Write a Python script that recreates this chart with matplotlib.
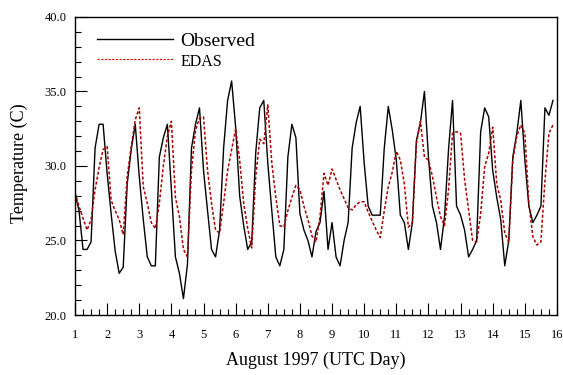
import numpy as np
import matplotlib
matplotlib.use("Agg")
import matplotlib.pyplot as plt
from matplotlib.ticker import MultipleLocator, FormatStrFormatter

# 3-hourly air temperature, August 1997 (UTC day), starting day 1 00Z
start_day = 1.0
step_days = 0.125

observed = [
    28.2, 27.0, 24.4, 24.4, 24.9, 31.2, 32.8, 32.8,   # day 1
    29.5, 26.8, 24.3, 22.8, 23.2, 28.8, 31.1, 32.8,   # day 2
    29.3, 26.4, 23.9, 23.3, 23.3, 30.6, 31.9, 32.8,   # day 3
    28.4, 23.9, 22.8, 21.1, 23.4, 31.2, 32.8, 33.9,   # day 4
    29.7, 27.0, 24.4, 23.9, 25.7, 31.2, 34.4, 35.7,   # day 5
    32.6, 28.0, 26.0, 24.4, 24.9, 30.9, 33.9, 34.4,   # day 6
    30.2, 27.0, 23.9, 23.3, 24.4, 30.6, 32.8, 31.9,   # day 7
    26.8, 25.7, 25.0, 23.9, 25.6, 26.2, 28.3, 24.4,   # day 8
    26.2, 23.9, 23.3, 25.0, 26.2, 31.2, 32.9, 34.0,   # day 9
    30.2, 27.3, 26.7, 26.7, 26.7, 31.2, 34.0, 32.4,   # day 10
    30.4, 26.7, 26.2, 24.4, 26.2, 31.7, 32.9, 35.0,   # day 11
    30.6, 27.3, 26.2, 24.4, 26.6, 31.1, 34.4, 27.3,   # day 12
    26.7, 25.7, 23.9, 24.4, 25.0, 32.3, 33.9, 33.3,   # day 13
    29.7, 27.9, 26.4, 23.3, 25.0, 30.6, 32.2, 34.4,   # day 14
    30.4, 27.3, 26.2, 26.7, 27.3, 33.9, 33.4, 34.4,   # day 15
]

edas = [
    28.2, 27.3, 26.5, 25.7, 26.4, 28.4, 29.9, 31.1,   # day 1
    31.3, 27.7, 27.0, 26.4, 25.4, 29.3, 31.3, 33.1,   # day 2
    33.9, 28.6, 27.5, 26.2, 25.8, 27.5, 30.0, 32.0,   # day 3
    33.0, 27.9, 26.6, 24.4, 23.9, 29.7, 32.4, 33.2,   # day 4
    33.3, 29.7, 27.5, 25.7, 25.5, 27.5, 29.7, 31.1,   # day 5
    32.5, 30.4, 27.5, 25.8, 24.5, 29.3, 31.8, 31.5,   # day 6
    34.1, 30.2, 27.9, 26.0, 25.9, 27.0, 27.9, 28.7,   # day 7
    28.4, 27.3, 26.4, 25.3, 24.9, 26.6, 29.5, 28.7,   # day 8
    29.8, 29.1, 28.4, 27.8, 27.2, 27.05, 27.4, 27.6,  # day 9
    27.6, 26.9, 26.3, 25.7, 25.2, 27.0, 28.6, 29.6,   # day 10
    31.0, 30.4, 28.8, 25.9, 26.2, 31.5, 33.0, 30.6,   # day 11
    30.4, 29.3, 27.9, 26.6, 26.0, 28.4, 32.2, 32.3,   # day 12
    32.2, 29.1, 27.05, 25.0, 24.9, 26.8, 29.95, 30.85,  # day 13
    32.6, 28.8, 27.7, 25.5, 24.9, 30.4, 32.0, 32.75,  # day 14
    32.2, 27.5, 25.25, 24.7, 24.9, 29.0, 32.2, 32.75,  # day 15
]

series_labels = ["Observed", "EDAS"]
x_label = "August 1997 (UTC Day)"
y_label = "Temperature (C)"

days = start_day + step_days * np.arange(len(observed))

plt.rcParams["font.family"] = ["Liberation Serif", "DejaVu Serif"]

fig = plt.figure(figsize=(5.63, 3.75), dpi=100)
ax = fig.add_axes([0.1332, 0.16, 0.8561, 0.7947])

ax.plot(days, observed, color="black", lw=1.0, label=series_labels[0])
ax.plot(days, edas, color="#a80000", lw=1.1, linestyle=(0, (2.0, 1.3)),
        label=series_labels[1])

ax.set_xlim(1, 16)
ax.set_ylim(20, 40)

ax.xaxis.set_major_locator(MultipleLocator(1))
ax.xaxis.set_minor_locator(MultipleLocator(0.25))
ax.yaxis.set_major_locator(MultipleLocator(5))
ax.yaxis.set_minor_locator(MultipleLocator(1))
ax.yaxis.set_major_formatter(FormatStrFormatter("%.1f"))

ax.tick_params(which="both", direction="in", top=False, right=False,
               width=0.8, color="black")
ax.tick_params(which="major", length=8.5)
ax.tick_params(which="minor", length=4.5)
ax.tick_params(axis="x", which="major", labelsize=9, pad=10)
ax.tick_params(axis="y", which="major", labelsize=9, pad=6)

for sp in ax.spines.values():
    sp.set_linewidth(1.0)
    sp.set_color("black")

ax.set_xlabel(x_label, fontsize=13)
ax.set_ylabel(y_label, fontsize=13)
ax.xaxis.set_label_coords(0.5, -0.122)
ax.yaxis.set_label_coords(-0.098, 0.51)

leg = ax.legend(loc="upper left", bbox_to_anchor=(0.045, 0.948), frameon=False,
                fontsize=14, handlelength=3.9, handletextpad=0.4,
                borderpad=0, borderaxespad=0, labelspacing=0.12)
texts = leg.get_texts()
texts[1].set_fontsize(11.5)
leg_lines = leg.get_lines()
leg_lines[1].set_color("#e00000")
leg_lines[1].set_linewidth(0.8)

fig.savefig("out.png", dpi=100)
